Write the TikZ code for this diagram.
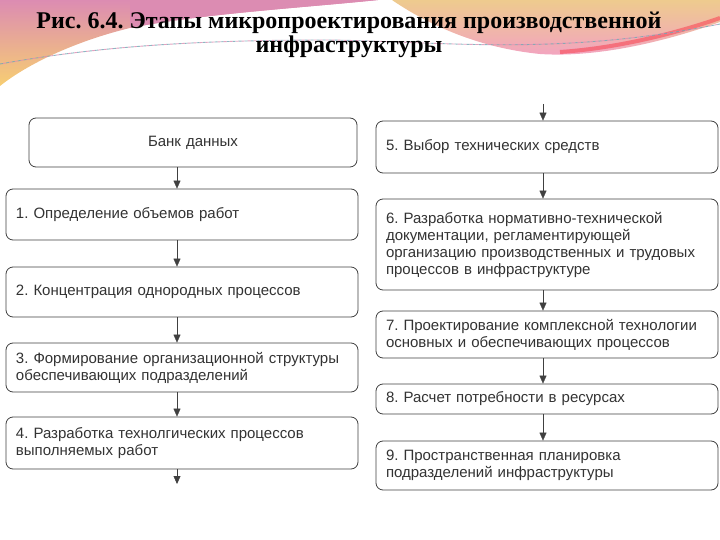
\documentclass[tikz,border=0pt]{standalone}
\usepackage{fontspec}
\setmainfont{Liberation Serif}
\setsansfont{Liberation Sans}
\usetikzlibrary{arrows.meta}
\frenchspacing

\definecolor{swpink}{HTML}{DC8CB2}
\definecolor{sworange}{HTML}{EDB48C}
\definecolor{swyellow}{HTML}{F7CE72}
\definecolor{swpinklight}{HTML}{F2A2C2}
\definecolor{swsand}{HTML}{EECB8E}
\definecolor{swteal}{HTML}{6FA8B4}
\definecolor{boxline}{HTML}{404040}
\definecolor{boxtext}{HTML}{333333}

\tikzset{
  stage/.style={thick,rectangle,rounded corners=7pt,draw=boxline,fill=white,
    text=boxtext,font=\sffamily\fontsize{15}{17}\selectfont,
    inner xsep=10pt,inner ysep=2pt,align=left},
  leftstage/.style={stage,text width=332pt,minimum height=#1},
  rightstage/.style={stage,text width=322pt,minimum height=#1},
  flow/.style={thin,draw=boxline,-{Triangle[width=7pt,length=8pt]}}
}

\begin{document}
\begin{tikzpicture}[x=1pt,y=-1pt]
\useasboundingbox (0,0) rectangle (720,540);

% top left swoosh
\shade[top color=swpink,middle color=sworange,bottom color=swyellow]
  (0,0) -- (378,0) .. controls (300,8) and (200,14) .. (130,28)
  .. controls (80,40) and (30,62) .. (0,86) -- cycle;
\fill[swpink] (0,0) -- (378,0) .. controls (300,8) and (200,14) .. (130,28)
  -- (130,0) -- cycle;

% top right swoosh
\shade[top color=swsand,bottom color=swpinklight]
  (392,0) .. controls (430,26) and (480,48) .. (540,54)
  .. controls (600,58) and (670,40) .. (720,22) -- (720,0) -- cycle;
\draw[line width=4pt,draw=red!55!swpinklight,opacity=0.6]
  (560,52) .. controls (620,48) and (680,32) .. (720,18);

% dashed wave
\draw[dashed,line width=0.9pt,draw=swteal,opacity=0.8]
  (0,64) .. controls (100,46) and (200,40) .. (330,40)
  .. controls (450,42) and (560,56) .. (720,24);
\draw[dashed,dash phase=3pt,line width=0.9pt,draw=swpink,opacity=0.8]
  (0,64) .. controls (100,46) and (200,40) .. (330,40)
  .. controls (450,42) and (560,56) .. (720,24);

% title node
\node[font=\bfseries\fontsize{24}{24}\selectfont,align=center] (title) at (349,35)
  {Рис. 6.4. Этапы микропроектирования производственной\\инфраструктуры};

% arrow axes
\coordinate (laxis) at (177,0);
\coordinate (raxis) at (543,0);

% bank node
\node[stage,text width=308pt,minimum height=49pt,align=center] (bank) at (193,142.5)
  {Банк данных};

% left column stage nodes
\node[leftstage=51pt] (s1) at (182,214.5) {1. Определение объемов работ};
\node[leftstage=50pt] (s2) at (182,292) {2. Концентрация однородных процессов};
\node[leftstage=49pt] (s3) at (182,367.5)
  {3. Формирование организационной структуры\\обеспечивающих подразделений};
\node[leftstage=52pt] (s4) at (182,443)
  {4. Разработка технолгических процессов\\выполняемых работ};

% right column stage nodes
\node[rightstage=52pt] (s5) at (547,147) {5. Выбор технических средств};
\node[rightstage=91pt] (s6) at (547,244.5)
  {6. Разработка нормативно-технической\\документации, регламентирующей\\организацию производственных и трудовых\\процессов в инфраструктуре};
\node[rightstage=47pt] (s7) at (547,334.5)
  {7. Проектирование комплексной технологии\\основных и обеспечивающих процессов};
\node[rightstage=30pt] (s8) at (547,399) {8. Расчет потребности в ресурсах};
\node[rightstage=49pt] (s9) at (547,465.5)
  {9. Пространственная планировка\\подразделений инфраструктуры};

% free ends of the column arrows
\coordinate (lout) at (177,484);
\coordinate (rin) at (543,104);

\foreach \a/\b in {bank/s1,s1/s2,s2/s3,s3/s4}
  \draw[flow] (\a.south -| laxis) -- (\b.north -| laxis);
\draw[flow] (s4.south -| laxis) -- (lout);

\draw[flow] (rin) -- (s5.north -| raxis);
\foreach \a/\b in {s5/s6,s6/s7,s7/s8,s8/s9}
  \draw[flow] (\a.south -| raxis) -- (\b.north -| raxis);

\end{tikzpicture}
\end{document}
